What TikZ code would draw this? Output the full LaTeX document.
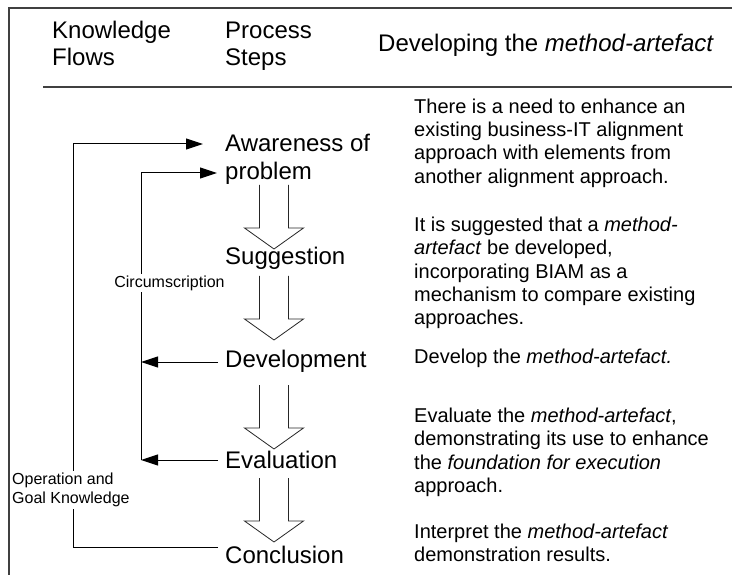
\documentclass[tikz,border=0pt]{standalone}
\usepackage{fontspec}
\setmainfont{Liberation Sans}
\usetikzlibrary{arrows.meta}
\begin{document}
\begin{tikzpicture}[x=1pt,y=-1pt,
  hdr/.style={font=\fontsize{24}{27.6}\selectfont, inner sep=0pt, anchor=north west, align=left},
  hdrone/.style={font=\fontsize{24}{27.6}\selectfont, inner sep=0pt, anchor=base west},
  stepname/.style={font=\fontsize{24}{27.6}\selectfont, inner sep=0pt, anchor=base west},
  desc/.style={font=\fontsize{20}{23.4}\selectfont, inner sep=0pt, anchor=north west, align=left},
  small/.style={font=\fontsize{16}{19}\selectfont, fill=white, inner xsep=1pt, inner ysep=2pt, align=left},
  flow/.style={line width=1pt, -{Triangle[length=17pt,width=11pt]}},
  plainline/.style={line width=1pt},
  blockarrow/.style={line width=0.8pt, draw=black!85, line join=miter},
  frameline/.style={line width=1.6pt, draw=black!75},
  blockarr/.pic={\draw[blockarrow] (-14.5,0) -- (-14.5,43) -- (-29.5,43) -- (0,64) -- (29.5,43) -- (14.5,43) -- (14.5,0);}]
\useasboundingbox (0,0) rectangle (732,575);

% frame and rule
\draw[frameline] (9,576) -- (9,8) -- (733,8);
\draw[frameline] (43,87) -- (733,87);

% headers
\node[hdr] (hk) at (52,20) {\rule{0pt}{18pt}Knowledge\\Flows};
\node[hdr] (hp) at (225,20) {\rule{0pt}{18pt}Process\\Steps};
\node[hdrone] (hd) at (378,52) {Developing the \textit{method-artefact}};

% process steps
\node[stepname] (aw1) at (225,152) {Awareness of};
\node[stepname] (aw2) at (225,180) {problem};
\node[stepname] (sugg) at (225,265) {Suggestion};
\node[stepname] (dev) at (225,367) {Development};
\node[stepname] (eval) at (225,468) {Evaluation};
\node[stepname] (concl) at (225,563) {Conclusion};

% block arrows between steps
\pic at (274,185) {blockarr};
\pic at (274,276) {blockarr};
\pic at (274,385) {blockarr};
\pic at (274,478) {blockarr};

% knowledge flow connectors
\coordinate (cO) at (218,547);
\coordinate (oB) at (73,547);
\coordinate (oT) at (73,144);
\coordinate (aO) at (203,144);
\draw[flow] (cO) -- (oB) -- (oT) -- (aO);

\coordinate (dO) at (218,362);
\coordinate (dI) at (141,362);
\coordinate (eO) at (218,460);
\coordinate (eI) at (141,460);
\coordinate (iT) at (141,173);
\coordinate (aI) at (217,173);
\draw[flow] (dO) -- (dI);
\draw[flow] (eO) -- (eI);
\draw[flow] (eI) -- (iT) -- (aI);

% flow labels
\node[small] (circ) at (169.5,283) {Circumscription};
\node[small, anchor=north west] (opg) at (11,470.5) {\rule{0pt}{12pt}Operation and\\Goal Knowledge};

% descriptions
\node[desc] (d1) at (414,98) {\rule{0pt}{15pt}There is a need to enhance an\\existing business-IT alignment\\approach with elements from\\another alignment approach.};
\node[desc] (d2) at (414,216) {\rule{0pt}{15pt}It is suggested that a \textit{method-}\\\textit{artefact} be developed,\\incorporating BIAM as a\\mechanism to compare existing\\approaches.};
\node[desc] (d3) at (414,348) {\rule{0pt}{15pt}Develop the \textit{method-artefact.}};
\node[desc] (d4) at (414,407) {\rule{0pt}{15pt}Evaluate the \textit{method-artefact},\\demonstrating its use to enhance\\the \textit{foundation for execution}\\approach.};
\node[desc] (d5) at (414,523) {\rule{0pt}{15pt}Interpret the \textit{method-artefact}\\demonstration results.};
\end{tikzpicture}
\end{document}
